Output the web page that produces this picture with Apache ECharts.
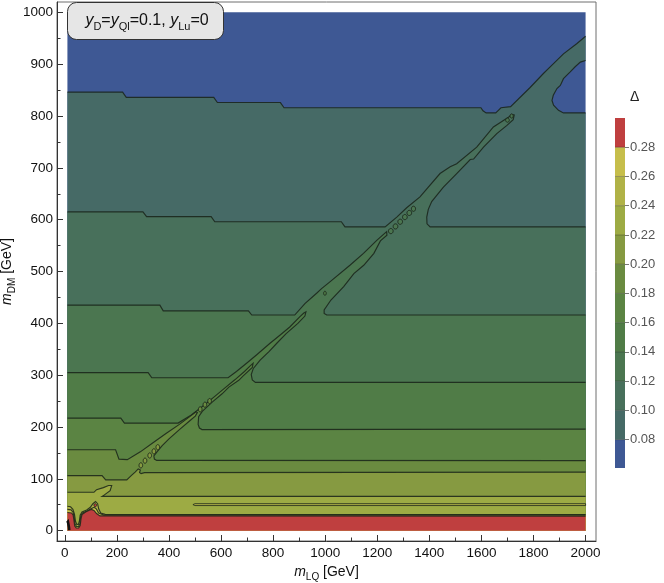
<!DOCTYPE html>
<html><head><meta charset="utf-8">
<script src="https://cdn.jsdelivr.net/npm/echarts@6.0.0/dist/echarts.min.js"></script>
<style>html,body{margin:0;padding:0;background:#fff}#c{width:664px;height:583px}</style>
</head><body><div id="c"></div>
<script>
// ---------- data ----------
const X_LIMITS = [10, 2000];
const Y_LIMITS = [0, 1000];
const xTicks = [0, 200, 400, 600, 800, 1000, 1200, 1400, 1600, 1800, 2000];
const xMinorTicks = [100, 300, 500, 700, 900, 1100, 1300, 1500, 1700, 1900];
const yTicks = [0, 100, 200, 300, 400, 500, 600, 700, 800, 900, 1000];
const yMinorTicks = [50, 150, 250, 350, 450, 550, 650, 750, 850, 950];
const levelValues = [0.0606, 0.08, 0.10, 0.12, 0.14, 0.16, 0.18, 0.20, 0.22, 0.24, 0.26, 0.28, 0.30];
const barTicks = [0.08, 0.10, 0.12, 0.14, 0.16, 0.18, 0.20, 0.22, 0.24, 0.26, 0.28];
const bandColors = ['#3e5894', '#466a66', '#48705b', '#4b7650', '#507c47', '#5b8443',
                    '#6a8b40', '#869a41', '#9dab44', '#b0b247', '#c6be4b', '#bf3f3f'];

// contour lines (m_LQ, m_DM), each level may have several pieces
const contour008 = [
  [[10,846],[222,846],[236,836],[572,836],[586,826],[828,826],[842,816],[1598,816],[1606,810],[1618,806],
   [1655,806],[1665,811],[1675,816],[1712,818],[1787,855],[1838,882],[1864,895],[1915,920],[1967,940],[2000,954]],
  [[2000,907],[1980,904],[1960,895],[1941,885],[1915,872],[1903,859],[1890,853],[1876,840],[1871,830],
   [1877,821],[1896,811],[1915,806],[2000,806]]
];
const contour010 = [
  [[10,615],[300,615],[314,606],[562,606],[576,596],[1062,596],[1076,586],[1230,586],[1275,605],[1313,623],
   [1364,644],[1441,689],[1480,702],[1505,708],[1582,740],[1646,779],[1680,790],[1705,798],[1716,803],[1726,802],
   [1722,793],[1698,782],[1659,766],[1608,740],[1570,717],[1557,716],[1505,689],[1454,663],[1409,635],
   [1396,620],[1390,605],[1391,592],[1403,586],[2000,586]]
];
const contour012 = [
  [[10,435],[365,435],[378,424],[705,424],[718,416],[883,416],[922,438],[967,458],[986,467],[1018,480],
   [1095,512],[1147,535],[1198,560],[1225,572],[1236,577],[1237,570],[1212,559],[1187,535],[1148,512],
   [1110,496],[1071,471],[1022,445],[996,426],[996,419],[1006,416],[2000,416]]
];
const contour014 = [
  [[10,305],[320,305],[334,295],[627,295],[659,307],[698,323],[736,339],[787,361],[826,377],[864,393],
   [903,413],[918,420],[926,422],[922,414],[895,400],[850,380],[815,362],[785,346],[750,329],[724,313],
   [716,301],[720,291],[732,286],[2000,286]]
];
const contour016 = [
  [[10,217],[215,217],[229,207.5],[435,207.5],[486,223],[537,243],[576,259],[614,275],[653,291],[690,307],
   [712,318],[723,323],[720,315],[684,298],[668,290],[630,277],[604,264],[566,248],[528,230],[514,220],
   [512,205],[517,198],[527,195],[2000,196]]
];
const contour018 = [
  [[10,156],[195,156],[208,138],[240,137],[290,152],[340,170],[390,188],[440,205],[480,220],[503,229],
   [509,228],[501,221],[480,212],[440,195],[400,177],[374,164],[354,152],[342,144],[344,138],[353,135.5],[2000,135]]
];
const contour020 = [
  [[10,106],[143,106],[157,98],[238,98],[255,106],[270,113],[282,119],[290,117],[287,112],[293,110],[306,112],[2000,113]]
];
const contour022 = [
  [[10,74],[112,74],[122,79],[148,83],[168,87],[180,87],[174,77],[152,69],[143,66],[2000,66]]
];
const contour024 = [
  [[10,47],[22,46],[31,41],[37,32],[41,18],[46,12],[52,12],[56,18],[59,30],[66,36],[84,40],[98,45],[108,52],
   [118,56],[126,52],[130,42],[138,34],[155,31.5],[2000,31]]
];
const contour026 = [
  [[10,41],[24,40],[32,35],[36,26],[39,13],[45,8],[53,8],[58,14],[61,28],[68,34],[86,38],[100,42],[112,45],
   [121,42],[130,34],[150,30],[2000,30]]
];
const contour028 = [
  [[10,35],[26,34],[32,30],[35,20],[38,9],[44,5],[53,5],[59,10],[62,22],[66,31],[80,36],[92,39],[102,41],
   [112,39],[122,33],[135,28.5],[2000,28]]
];
// small closed contours: [centre m_LQ, centre m_DM, half width, half height, band]
const islands = [
  [1252,578,9,5,3],[1270,587,9,5,3],[1288,596,9,5,3],[1306,605,9,5,3],[1323,613,9,5,3],[1339,621,8,5,3],
  [1700,792,7,4,3],[1716,800,6,4,3],
  [999,458,5,4,4],
  [520,234,7,5,6],[538,243,7,5,6],[556,250,7,5,6],
  [292,126,7,5,7],[308,135,7,5,7],[326,145,7,5,7],[342,153,7,5,7],[357,161,7,5,7],
  [117,49,5,3,11]
];
const sliver024 = [[492,50.2],[500,52],[2000,52],[2000,48.4],[500,48.4]];
const denseLines = [[[9,15],[12,17],[14,12],[16,6],[17,1]]];

// ---------- chart ----------
const FONT = '"Liberation Sans", Arial, sans-serif';
const LINE = 'rgba(25,35,25,0.85)';
const layers = [
  {band: 1, segs: contour008}, {band: 2, segs: contour010}, {band: 3, segs: contour012},
  {band: 4, segs: contour014}, {band: 5, segs: contour016}, {band: 6, segs: contour018},
  {band: 7, segs: contour020}, {band: 8, segs: contour022}, {band: 9, segs: contour024},
  {band: 10, segs: contour026}, {band: 11, segs: contour028}
];

function renderLayer(params, api) {
  const i = api.value(2);
  if (i < 0) {
    const a = api.coord([X_LIMITS[0], Y_LIMITS[1]]), b = api.coord([X_LIMITS[1], Y_LIMITS[0]]);
    return {type: 'rect', shape: {x: a[0], y: a[1], width: b[0] - a[0], height: b[1] - a[1]},
            style: {fill: bandColors[0]}};
  }
  const L = layers[i];
  const pts = [];
  L.segs.forEach(s => s.forEach(p => pts.push(api.coord(p))));
  pts.push(api.coord([X_LIMITS[1], Y_LIMITS[0]]), api.coord([X_LIMITS[0], Y_LIMITS[0]]));
  const children = [{type: 'polygon', shape: {points: pts}, style: {fill: bandColors[L.band]}}];
  L.segs.forEach(s => children.push({type: 'polyline', shape: {points: s.map(p => api.coord(p))},
    style: {stroke: LINE, lineWidth: 1.15, fill: null}}));
  return {type: 'group', children};
}

function renderIsland(params, api) {
  const isl = islands[api.value(2)];
  const c = api.coord([isl[0], isl[1]]);
  const sz = api.size([isl[2], isl[3]]);
  const pts = [];
  for (let k = 0; k < 20; k++) {
    const t = k / 20 * Math.PI * 2;
    pts.push([c[0] + sz[0] * Math.cos(t), c[1] + sz[1] * Math.sin(t)]);
  }
  return {type: 'polygon', shape: {points: pts},
          style: {fill: bandColors[isl[4]], stroke: LINE, lineWidth: 1}};
}

function renderExtra(params, api) {
  const children = [{type: 'polygon', shape: {points: sliver024.map(p => api.coord(p))},
    style: {fill: bandColors[9], stroke: LINE, lineWidth: 0.9}}];
  denseLines.forEach(s => children.push({type: 'polyline', shape: {points: s.map(p => api.coord(p))},
    style: {stroke: '#111', lineWidth: 2.6, fill: null}}));
  return {type: 'group', children};
}

function renderBar(params, api) {
  const i = api.value(2);
  const p1 = api.coord([0, levelValues[i]]), p2 = api.coord([1, levelValues[i + 1]]);
  const children = [{type: 'rect', shape: {x: p1[0], y: p2[1], width: p2[0] - p1[0], height: p1[1] - p2[1]},
    style: {fill: bandColors[i]}}];
  if (i > 0) children.push({type: 'line', shape: {x1: p1[0], y1: p1[1], x2: p2[0], y2: p1[1]},
    style: {stroke: 'rgba(0,0,0,0.28)', lineWidth: 1}});
  return {type: 'group', children};
}

const subRich = {
  i: {fontStyle: 'italic', fontSize: 14, lineHeight: 20, fontFamily: FONT, color: '#111'},
  s: {fontSize: 10, lineHeight: 20, verticalAlign: 'bottom', fontFamily: FONT, color: '#111'}
};

const chart = echarts.init(document.getElementById('c'), null, {renderer: 'canvas'});
chart.setOption({
  animation: false,
  backgroundColor: '#fff',
  grid: [
    {left: 57, top: 2, width: 539, height: 539, show: true, borderColor: '#6e6e6e', borderWidth: 1,
     backgroundColor: 'transparent', containLabel: false, outerBoundsMode: 'none'},
    {left: 615, top: 118, width: 10, height: 350, containLabel: false, outerBoundsMode: 'none'}
  ],
  xAxis: [
    {gridIndex: 0, type: 'value', min: -30, max: 2040, position: 'bottom',
     axisLine: {show: true, onZero: false, lineStyle: {color: '#333', width: 1}},
     axisTick: {show: true, inside: true, length: 6, customValues: xTicks, lineStyle: {color: '#333'}},
     axisLabel: {customValues: xTicks, formatter: v => String(v), margin: 5, fontSize: 13.5, color: '#111', fontFamily: FONT},
     splitLine: {show: false},
     name: '{i|m}{s|LQ} [GeV]', nameLocation: 'middle', nameGap: 21, nameMoveOverlap: false,
     nameTextStyle: {fontSize: 14, lineHeight: 20, color: '#111', fontFamily: FONT, rich: subRich}},
    {gridIndex: 0, type: 'value', min: -30, max: 2040, position: 'bottom',
     axisLine: {show: false, onZero: false},
     axisTick: {show: true, inside: true, length: 3.5, customValues: xMinorTicks, lineStyle: {color: '#333'}},
     axisLabel: {show: false}, splitLine: {show: false}},
    {gridIndex: 1, type: 'value', min: 0, max: 1, show: false}
  ],
  yAxis: [
    {gridIndex: 0, type: 'value', min: -20, max: 1020, position: 'left',
     axisLine: {show: true, onZero: false, lineStyle: {color: '#333', width: 1}},
     axisTick: {show: true, inside: true, length: 6, customValues: yTicks, lineStyle: {color: '#333'}},
     axisLabel: {customValues: yTicks, formatter: v => String(v), margin: 4, fontSize: 13.5, color: '#111', fontFamily: FONT},
     splitLine: {show: false},
     name: '{i|m}{s|DM} [GeV]', nameLocation: 'middle', nameGap: 40, nameRotate: 90, nameMoveOverlap: false,
     nameTextStyle: {fontSize: 14, lineHeight: 20, color: '#111', fontFamily: FONT, rich: subRich}},
    {gridIndex: 0, type: 'value', min: -20, max: 1020, position: 'left',
     axisLine: {show: false, onZero: false},
     axisTick: {show: true, inside: true, length: 3.5, customValues: yMinorTicks, lineStyle: {color: '#333'}},
     axisLabel: {show: false}, splitLine: {show: false}},
    {gridIndex: 1, type: 'value', min: levelValues[0], max: levelValues[levelValues.length - 1], position: 'right',
     axisLine: {show: false, onZero: false},
     axisTick: {show: true, inside: false, length: 4, customValues: barTicks, lineStyle: {color: '#777'}},
     axisLabel: {customValues: barTicks, formatter: v => v.toFixed(2), margin: 5, fontSize: 13, color: '#555', fontFamily: FONT},
     splitLine: {show: false}}
  ],
  graphic: [
    {type: 'text', left: 630, top: 90, z: 100, style: {text: 'Δ', fontSize: 14, fill: '#222', fontFamily: FONT}},
    {type: 'rect', left: 67, top: 2, z: 100, shape: {x: 0, y: 0, width: 156, height: 37, r: 9},
     style: {fill: '#e6e6e6', stroke: '#333', lineWidth: 1}},
    {type: 'text', x: 147, y: 21, z: 101, style: {
        text: '{i|y}{s|D}={i|y}{s|Ql}=0.1, {i|y}{s|Lu}=0',
        align: 'center', verticalAlign: 'middle', fontSize: 16, lineHeight: 22, fill: '#111', fontFamily: FONT,
        rich: {i: {fontStyle: 'italic', fontSize: 16, lineHeight: 22, fontFamily: FONT, fill: '#111'},
               s: {fontSize: 11, lineHeight: 22, verticalAlign: 'bottom', fontFamily: FONT, fill: '#111'}}}}
  ],
  series: [
    {type: 'custom', xAxisIndex: 0, yAxisIndex: 0, renderItem: renderLayer, clip: true,
     encode: {x: 0, y: 1},
     data: [[X_LIMITS[0], Y_LIMITS[0], -1]].concat(layers.map((l, i) => [X_LIMITS[0], Y_LIMITS[0], i]))},
    {type: 'custom', xAxisIndex: 0, yAxisIndex: 0, renderItem: renderIsland, clip: true,
     encode: {x: 0, y: 1}, data: islands.map((s, i) => [s[0], s[1], i])},
    {type: 'custom', xAxisIndex: 0, yAxisIndex: 0, renderItem: renderExtra, clip: true,
     encode: {x: 0, y: 1}, data: [[X_LIMITS[0], Y_LIMITS[0], 0]]},
    {type: 'custom', xAxisIndex: 2, yAxisIndex: 2, renderItem: renderBar,
     encode: {x: 0, y: 1}, data: bandColors.map((c, i) => [0, levelValues[i], i])}
  ]
});
</script></body></html>
